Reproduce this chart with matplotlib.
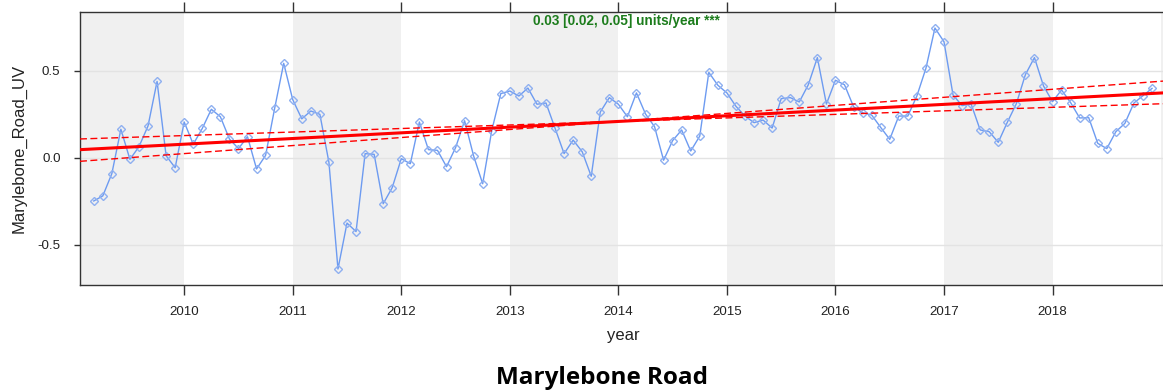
import numpy as np
import matplotlib
matplotlib.use('Agg')
import matplotlib.pyplot as plt

# monthly de-seasonalised means, Mar 2009 .. Dec 2018
START_YEAR, START_MONTH = 2009, 3
uv_values = [
    -0.247, -0.218, -0.090, 0.165, -0.008, 0.065, 0.184, 0.440, 0.013, -0.056,
    0.207, 0.079, 0.170, 0.280, 0.237, 0.109, 0.054, 0.122, -0.063, 0.015, 0.285, 0.544,
    0.335, 0.225, 0.270, 0.251, -0.025, -0.638, -0.374, -0.423, 0.025, 0.021, -0.263, -0.170,
    -0.004, -0.033, 0.207, 0.048, 0.044, -0.050, 0.059, 0.214, 0.011, -0.148, 0.157, 0.370,
    0.385, 0.356, 0.402, 0.309, 0.316, 0.171, 0.025, 0.103, 0.036, -0.105, 0.264, 0.347,
    0.309, 0.237, 0.374, 0.253, 0.180, -0.013, 0.100, 0.161, 0.040, 0.126, 0.492, 0.418,
    0.374, 0.297, 0.241, 0.203, 0.218, 0.172, 0.341, 0.347, 0.322, 0.421, 0.577, 0.310,
    0.447, 0.421, 0.295, 0.260, 0.247, 0.176, 0.107, 0.241, 0.241, 0.356, 0.515, 0.747,
    0.668, 0.362, 0.301, 0.310, 0.161, 0.151, 0.090, 0.205, 0.312, 0.479, 0.577, 0.414,
    0.324, 0.391, 0.318, 0.230, 0.232, 0.084, 0.054, 0.151, 0.199, 0.316, 0.358, 0.400,
]

# Theil-Sen trend: slope and 95% interval (units/year), pivot point
slope, slope_lo, slope_hi = 0.0327, 0.0203, 0.0462
pivot_year, pivot_value = 2014.0, 0.21

year_ticks = list(range(2010, 2019))
shaded_years = [2009, 2011, 2013, 2015, 2017, 2019]
y_ticks = [-0.5, 0.0, 0.5]
site_name = 'Marylebone Road'
y_label = 'Marylebone_Road_UV'

x = np.array([START_YEAR + (START_MONTH - 1 + i) / 12 for i in range(len(uv_values))])
y = np.array(uv_values)

W, H = 1163, 392
fig = plt.figure(figsize=(W / 100, H / 100), dpi=100)
ax = fig.add_axes([80 / W, 1 - 285 / H, 1086.5 / W, 273 / H])

xmin, xmax = 2009.04, 2019.05
ax.set_xlim(xmin, xmax)
ax.set_ylim(-0.730, 0.839)

for yr in shaded_years:
    ax.axvspan(yr, yr + 1, color='#f0f0f0', lw=0, zorder=0)
for v in y_ticks:
    ax.axhline(v, color='#e3e3e3', lw=1, zorder=1)

ax.plot(x, y, color='#6d9bf1', lw=1, marker='D', ms=4.2, mfc='none',
        mec='#8fb0f0', mew=1, zorder=3)

xs = np.array([xmin, xmax])
ax.plot(xs, pivot_value + slope * (xs - pivot_year), color='red', lw=2.2, zorder=4)
for s in (slope_lo, slope_hi):
    ax.plot(xs, pivot_value + s * (xs - pivot_year), color='red', lw=1,
            ls=(0, (5, 2.5)), zorder=4)

ax.text(0.503, 0.967, f'{slope:.2f} [{slope_lo:.2f}, {slope_hi:.2f}] units/year ***',
        transform=ax.transAxes, ha='center', va='center', fontsize=9.8,
        fontweight='bold', color='#1c7c1c', family='Liberation Sans')

ax.set_xticks(year_ticks)
ax.set_xticklabels([str(t) for t in year_ticks], fontsize=9.6, family='Liberation Sans')
ax.tick_params(axis='x', top=True, direction='out', length=7, width=1, colors='#333333',
               labelcolor='#222222', pad=8)
ax.set_yticks(y_ticks)
ax.set_yticklabels(['-0.5', '0.0', '0.5'], fontsize=9.6, family='Liberation Sans')
ax.tick_params(axis='y', length=4, width=1, colors='#333333', labelcolor='#222222', pad=10)
for sp in ax.spines.values():
    sp.set_color('#333333')
    sp.set_linewidth(1)

ax.set_xlabel('year', fontsize=12, family='Liberation Sans', labelpad=7, color='#222222')
ax.set_ylabel(y_label, fontsize=12, family='Liberation Sans', labelpad=8, color='#222222')

fig.text(602 / W, 1 - 378 / H, site_name, ha='center', va='center', fontsize=17.5,
         fontweight='bold', family='Open Sans')

fig.savefig('out.png', dpi=100)
